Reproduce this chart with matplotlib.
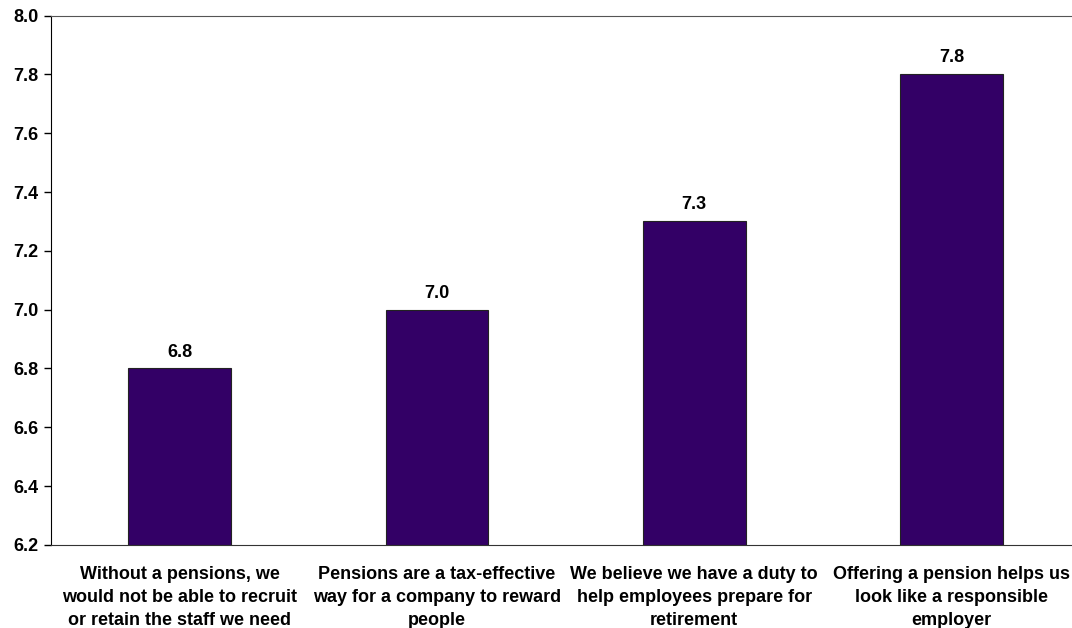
import matplotlib.pyplot as plt

plt.rcParams["font.family"] = ["Liberation Sans", "DejaVu Sans"]
plt.rcParams["font.weight"] = "bold"

categories = [
    "Without a pensions, we\nwould not be able to recruit\nor retain the staff we need",
    "Pensions are a tax-effective\nway for a company to reward\npeople",
    "We believe we have a duty to\nhelp employees prepare for\nretirement",
    "Offering a pension helps us\nlook like a responsible\nemployer",
]
scores = [6.8, 7.0, 7.3, 7.8]
yticks = [6.2, 6.4, 6.6, 6.8, 7.0, 7.2, 7.4, 7.6, 7.8, 8.0]

fig = plt.figure(figsize=(10.72, 6.28), dpi=100)
ax = fig.add_axes([0.0476, 0.1322, 0.9524, 0.8431])

x = range(len(categories))
ax.bar(x, [s - 6.2 for s in scores], bottom=6.2, width=0.4,
       color="#330066", edgecolor="#222222", linewidth=0.8)

# value labels sit just above each bar
for xi, s in zip(x, scores):
    ax.text(xi, s + 0.027, f"{s:.1f}", ha="center", va="bottom",
            fontsize=13, fontweight="bold")

ax.set_xlim(-0.5, 3.468)
ax.set_ylim(6.2, 8.0)
ax.set_yticks(yticks)
ax.set_yticklabels([f"{t:.1f}" for t in yticks], fontsize=13, fontweight="bold")
ax.set_xticks(list(x))
ax.set_xticklabels(categories, fontsize=13, fontweight="bold", linespacing=1.45)
ax.tick_params(axis="x", length=0, pad=15)
ax.tick_params(axis="y", length=5, width=1, pad=4, direction="out")

ax.spines["right"].set_visible(False)
ax.spines["left"].set_color("black")
ax.spines["top"].set_color("#555555")
ax.spines["bottom"].set_color("#333333")

fig.savefig("out.png", dpi=100)
